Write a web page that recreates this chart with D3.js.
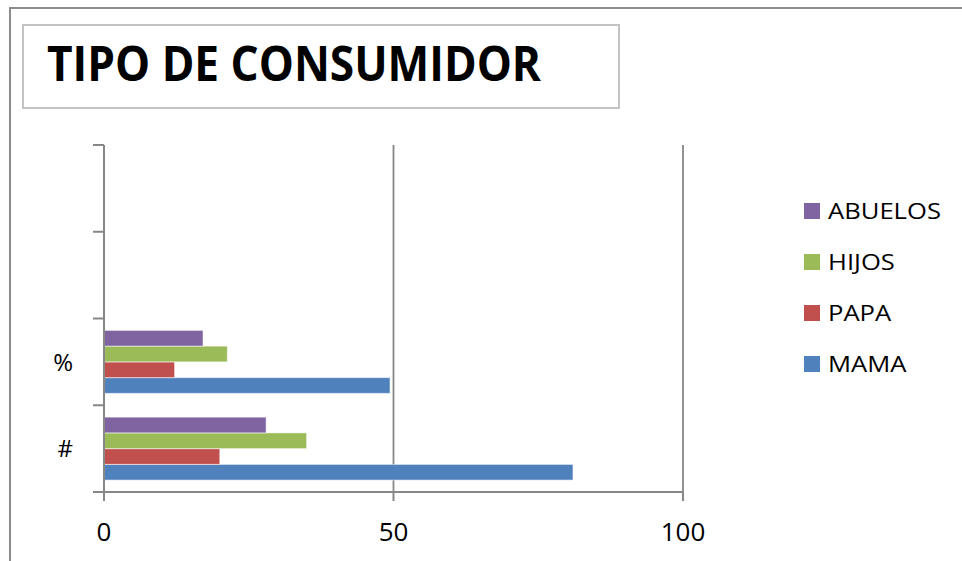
<!DOCTYPE html>
<html>
<head>
<meta charset="utf-8">
<script src="https://cdn.jsdelivr.net/npm/d3@7"></script>
<style>
  html, body { margin: 0; padding: 0; background: #fff; }
  svg { display: block; font-family: "Open Sans", "Noto Sans", sans-serif; }
</style>
</head>
<body>
<svg id="chart" width="962" height="561"></svg>
<script>
// Consumer type survey: counts (#) and shares (%) per family member
const categories = ["#", "%", "", ""];           // bottom to top
const series = ["MAMA", "PAPA", "HIJOS", "ABUELOS"];
const colors = ["#4F81BD", "#C0504D", "#9BBB59", "#8064A2"];
const values = {
  MAMA:    [81, 49.4, null, null],
  PAPA:    [20, 12.2, null, null],
  HIJOS:   [35, 21.3, null, null],
  ABUELOS: [28, 17.1, null, null]
};
const xTicks = [0, 50, 100];
const titleText = "TIPO DE CONSUMIDOR";

const svg = d3.select("#chart");
const axisGray = "#878787";

// outer chart frame (extends past the right and bottom edges)
svg.append("rect")
  .attr("x", 10).attr("y", 8).attr("width", 1000).attr("height", 600)
  .attr("fill", "none").attr("stroke", "#8c8c8c").attr("stroke-width", 2);

// title box
svg.append("rect")
  .attr("x", 23).attr("y", 25).attr("width", 596).attr("height", 83)
  .attr("fill", "#fff").attr("stroke", "#c3c3c3").attr("stroke-width", 2);
svg.append("text")
  .attr("x", 47).attr("y", 81)
  .attr("font-size", 48).attr("font-weight", 700).attr("fill", "#000")
  .attr("textLength", 494).attr("lengthAdjust", "spacingAndGlyphs")
  .text(titleText);

// scales
const plot = { left: 104, right: 683, top: 145, bottom: 492 };
const x = d3.scaleLinear().domain([0, 100]).range([plot.left, plot.right]);
const y = d3.scaleBand().domain(d3.range(categories.length))
  .range([plot.bottom, plot.top]).padding(0);
// series drawn top-down inside each band: last series on top
const inner = d3.scaleBand().domain(series.slice().reverse())
  .range([0, y.bandwidth()]).paddingInner(0).paddingOuter(0.754);

// vertical gridlines
svg.append("g").selectAll("line").data(xTicks.filter(d => d > 0)).join("line")
  .attr("x1", d => x(d)).attr("x2", d => x(d))
  .attr("y1", plot.top).attr("y2", plot.bottom)
  .attr("stroke", axisGray).attr("stroke-width", 1.8);

// bars
const barData = [];
series.forEach((s, si) => {
  values[s].forEach((v, ci) => {
    if (v != null) barData.push({ s, si, ci, v });
  });
});
svg.append("g").selectAll("rect").data(barData).join("rect")
  .attr("x", x(0))
  .attr("y", d => y(d.ci) + inner(d.s))
  .attr("width", d => x(d.v) - x(0))
  .attr("height", inner.bandwidth())
  .attr("fill", d => colors[d.si])
  .attr("stroke", "rgba(255,255,255,0.55)").attr("stroke-width", 1);

// category axis with ticks at band boundaries
const yAxis = svg.append("g");
yAxis.append("line")
  .attr("x1", plot.left).attr("x2", plot.left)
  .attr("y1", plot.top).attr("y2", plot.bottom)
  .attr("stroke", axisGray).attr("stroke-width", 2);
const bounds = d3.range(categories.length + 1).map(i =>
  i < categories.length ? y(i) + y.bandwidth() : y(categories.length - 1));
yAxis.selectAll(".tick").data(bounds).join("line")
  .attr("x1", plot.left - 11).attr("x2", plot.left)
  .attr("y1", d => d).attr("y2", d => d)
  .attr("stroke", axisGray).attr("stroke-width", 2);
yAxis.selectAll("text").data(categories).join("text")
  .attr("x", 73).attr("y", (d, i) => y(i) + y.bandwidth() / 2)
  .attr("dy", "0.36em").attr("text-anchor", "end")
  .attr("font-size", 24).attr("fill", "#000")
  .text(d => d);

// value axis
const xAxis = svg.append("g");
xAxis.append("line")
  .attr("x1", plot.left - 11).attr("x2", plot.right)
  .attr("y1", plot.bottom).attr("y2", plot.bottom)
  .attr("stroke", axisGray).attr("stroke-width", 2);
xAxis.selectAll(".tick").data(xTicks).join("line")
  .attr("x1", d => x(d)).attr("x2", d => x(d))
  .attr("y1", plot.bottom).attr("y2", plot.bottom + 9)
  .attr("stroke", axisGray).attr("stroke-width", 2);
xAxis.selectAll("text").data(xTicks).join("text")
  .attr("x", d => x(d)).attr("y", 541)
  .attr("text-anchor", "middle")
  .attr("font-size", 26).attr("fill", "#000")
  .text(d => d);

// legend, listed top-down in reverse series order
const legend = svg.append("g");
const legendItems = series.map((s, i) => ({ s, c: colors[i] })).reverse();
const lg = legend.selectAll("g").data(legendItems).join("g")
  .attr("transform", (d, i) => `translate(804,${203 + i * 51})`);
lg.append("rect").attr("width", 16).attr("height", 16).attr("fill", d => d.c);
lg.append("text")
  .attr("transform", "translate(24,15.5) scale(1.22,1)")
  .attr("font-size", 21).attr("fill", "#000")
  .text(d => d.s);
</script>
</body>
</html>
